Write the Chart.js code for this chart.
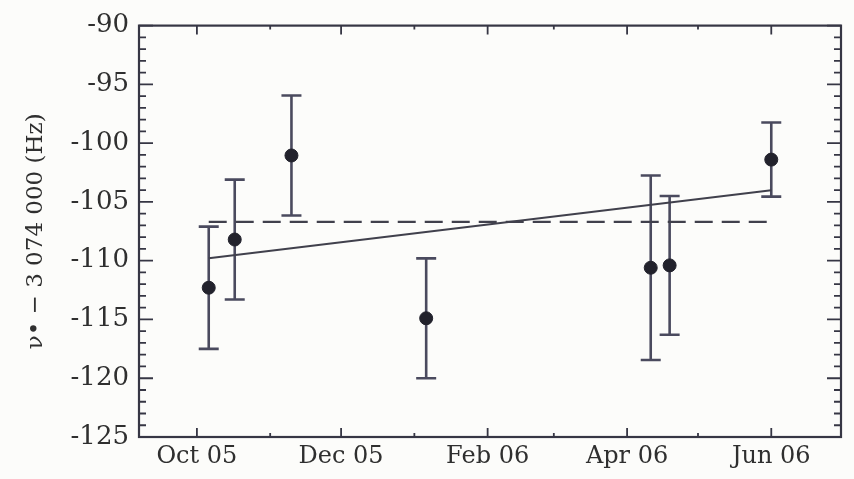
<!DOCTYPE html>
<html>
<head>
<meta charset="utf-8">
<script src="https://cdn.jsdelivr.net/npm/chart.js@4.4.0/dist/chart.umd.min.js"></script>
<style>
    html, body { margin: 0; padding: 0; background: #fcfcfa; }
</style>
</head>
<body>
<canvas id="grafico" width="854" height="479"></canvas>
<script>
// medidas (data, valor, erro)
const datas = ['2005-10-06', '2005-10-17', '2005-11-10', '2006-01-06', '2006-04-11', '2006-04-19', '2006-06-01'];
const valores = [-112.3, -108.2, -101.05, -114.9, -110.6, -110.4, -101.4];
const erros = [5.2, 5.1, 5.1, 5.1, 7.85, 5.9, 3.15];

// media (tracejada) e ajuste linear
const mediaDatas = ['2005-10-06', '2006-06-01'];
const mediaValores = [-106.7, -106.7];
const ajusteDatas = ['2005-10-06', '2006-06-01'];
const ajusteValores = [-109.8, -104.0];

// eixos
const rotulosX = ['Oct 05', 'Dec 05', 'Feb 06', 'Apr 06', 'Jun 06'];
const datasRotulos = ['2005-10-01', '2005-12-01', '2006-02-01', '2006-04-01', '2006-06-01'];
const datasMenores = ['2005-11-01', '2006-01-01', '2006-03-01', '2006-05-01'];
const inicioY = -125, fimY = -90, passoY = 5;
const tituloY = 'ν• − 3 074 000 (Hz)';

const origem = Date.parse('2005-10-01');
function dia(s) {
    return (Date.parse(s) - origem) / 86400000;
}
function pontos(ds, vs) {
    return ds.map((d, i) => ({ x: dia(d), y: vs[i] }));
}

const corTraco = '#363644';
const corTexto = '#2f2f2f';

const molduraPlugin = {
    id: 'moldura',
    beforeDatasetsDraw(chart) {
        const ctx = chart.ctx, xs = chart.scales.x, ys = chart.scales.y;
        ctx.save();
        ctx.strokeStyle = '#4a4a5e';
        ctx.lineWidth = 2.6;
        for (let i = 0; i < valores.length; i++) {
            const x = xs.getPixelForValue(dia(datas[i]));
            const yTopo = ys.getPixelForValue(valores[i] + erros[i]);
            const yBase = ys.getPixelForValue(valores[i] - erros[i]);
            ctx.beginPath();
            ctx.moveTo(x, yTopo); ctx.lineTo(x, yBase);
            ctx.moveTo(x - 10, yTopo); ctx.lineTo(x + 10, yTopo);
            ctx.moveTo(x - 10, yBase); ctx.lineTo(x + 10, yBase);
            ctx.stroke();
        }
        ctx.restore();
    },
    afterDraw(chart) {
        const ctx = chart.ctx, a = chart.chartArea, xs = chart.scales.x, ys = chart.scales.y;
        ctx.save();
        ctx.strokeStyle = corTraco;
        ctx.lineWidth = 2.2;
        ctx.strokeRect(a.left, a.top, a.right - a.left, a.bottom - a.top);
        ctx.lineWidth = 1.8;
        ctx.beginPath();
        // y: maiores a cada 5, menores a cada 1, dos dois lados
        for (let v = inicioY; v <= fimY; v++) {
            const y = ys.getPixelForValue(v);
            const len = (v % passoY === 0) ? 14 : 7;
            ctx.moveTo(a.left, y); ctx.lineTo(a.left + len, y);
            ctx.moveTo(a.right, y); ctx.lineTo(a.right - len, y);
        }
        // x: meses
        datasRotulos.forEach(d => {
            const x = xs.getPixelForValue(dia(d));
            ctx.moveTo(x, a.bottom); ctx.lineTo(x, a.bottom - 9);
            ctx.moveTo(x, a.top); ctx.lineTo(x, a.top + 9);
        });
        datasMenores.forEach(d => {
            const x = xs.getPixelForValue(dia(d));
            ctx.moveTo(x, a.bottom); ctx.lineTo(x, a.bottom - 4);
            ctx.moveTo(x, a.top); ctx.lineTo(x, a.top + 4);
        });
        ctx.stroke();
        ctx.restore();
    }
};

const grafico = document.getElementById('grafico');
new Chart(grafico, {
    type: 'scatter',
    data: {
        datasets: [{
            data: pontos(datas, valores),
            backgroundColor: '#22222c',
            borderColor: '#22222c',
            pointRadius: 6.5,
            pointHoverRadius: 6.5
        }, {
            type: 'line',
            data: pontos(ajusteDatas, ajusteValores),
            borderColor: '#40404c',
            borderWidth: 2,
            pointRadius: 0,
            fill: false
        }, {
            type: 'line',
            data: pontos(mediaDatas, mediaValores),
            borderColor: '#40404c',
            borderWidth: 2.4,
            borderDash: [18, 9],
            pointRadius: 0,
            fill: false
        }]
    },
    options: {
        responsive: false,
        animation: false,
        layout: {
            padding: { top: 22, right: 13, left: 0, bottom: 0 }
        },
        scales: {
            x: {
                type: 'linear',
                min: -24.5,
                max: 272.5,
                afterBuildTicks: (s) => {
                    s.ticks = datasRotulos.map(d => ({ value: dia(d) }));
                },
                afterFit: (s) => { s.height = 42; },
                grid: { display: false, drawTicks: false, tickLength: 0 },
                border: { display: false },
                ticks: {
                    autoSkip: false,
                    maxRotation: 0,
                    padding: 5,
                    color: corTexto,
                    font: { family: 'DejaVu Serif', size: 24 },
                    callback: (v, i) => rotulosX[i]
                }
            },
            y: {
                min: inicioY,
                max: fimY,
                afterFit: (s) => { s.width = 139; },
                grid: { display: false, drawTicks: false, tickLength: 0 },
                border: { display: false },
                ticks: {
                    stepSize: passoY,
                    padding: 10,
                    color: corTexto,
                    font: { family: 'DejaVu Serif', size: 26 }
                },
                title: {
                    display: true,
                    text: tituloY,
                    color: corTexto,
                    padding: { top: 22, bottom: 0 },
                    font: { family: 'DejaVu Serif', size: 23 }
                }
            }
        },
        plugins: {
            legend: { display: false },
            tooltip: { enabled: false }
        }
    },
    plugins: [molduraPlugin]
});
</script>
</body>
</html>
